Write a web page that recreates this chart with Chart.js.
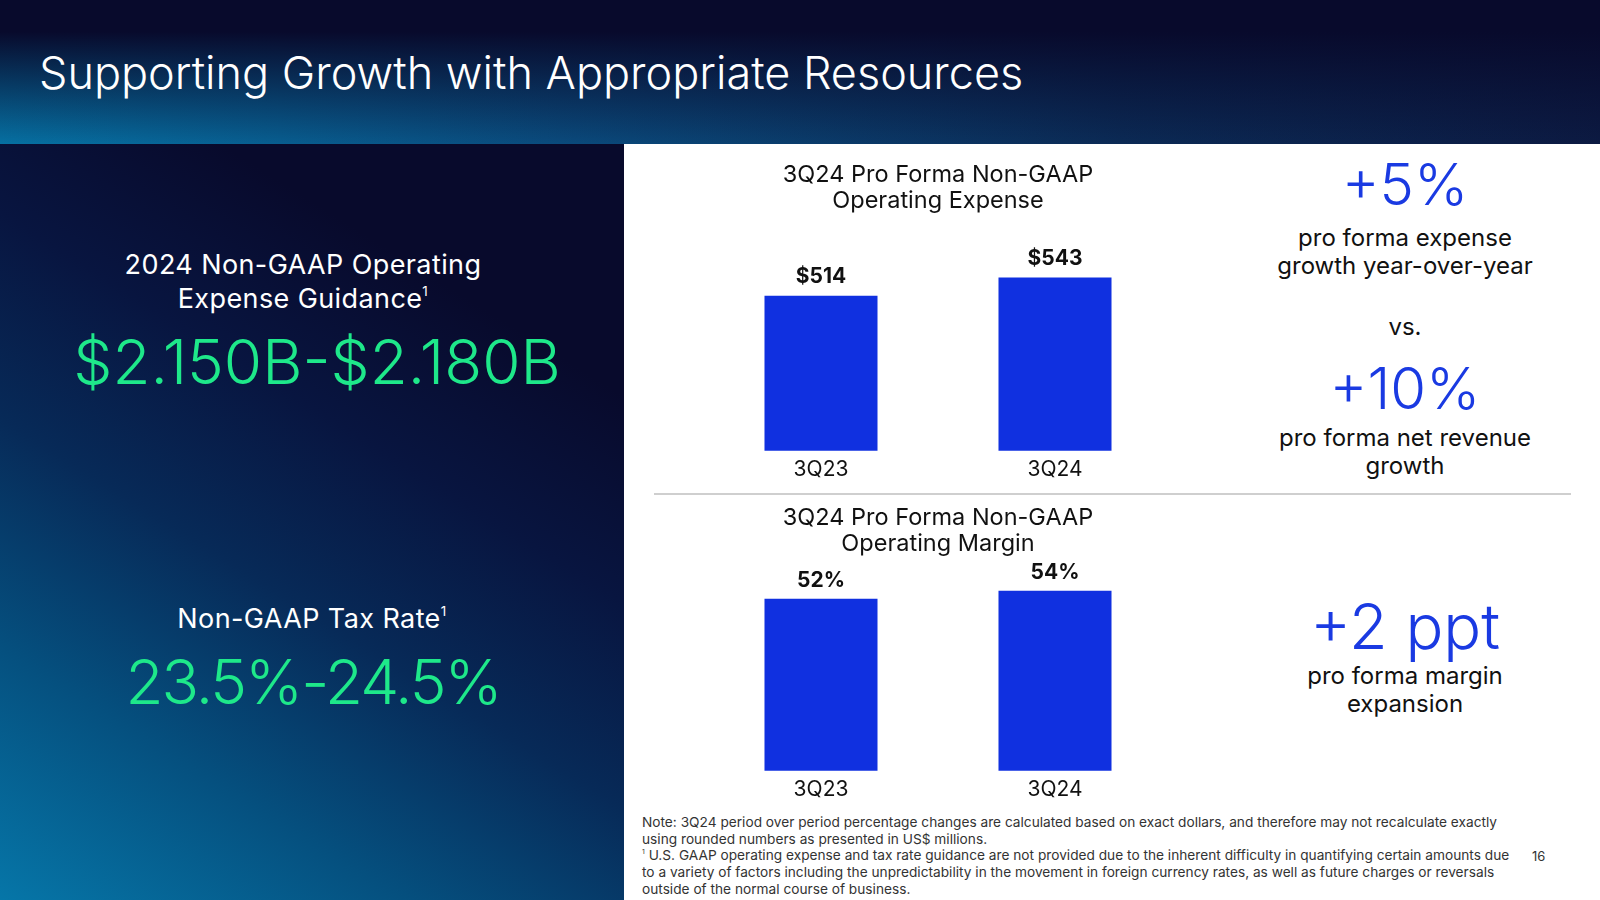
<!DOCTYPE html>
<html>
<head>
<meta charset="utf-8">
<script src="https://cdn.jsdelivr.net/npm/chart.js@4.4.1/dist/chart.umd.min.js"></script>
<style>
  html, body { margin: 0; padding: 0; }
  body { width: 1600px; height: 900px; position: relative; overflow: hidden; font-family: Inter, "Noto Sans", sans-serif; background: #fff; }
  .header {
    position: absolute; left: 0; top: 0; width: 1600px; height: 144px;
    background:
      linear-gradient(to bottom, #080a2c 0%, #080a2c 22%, rgba(8,10,44,0) 100%),
      linear-gradient(to right, #0670a2 0%, #0a4a7c 35%, #0b2a55 70%, #0c1a42 100%);
  }
  .header h1 {
    position: absolute; left: 39px; top: 44px; margin: 0;
    font-size: 45px; font-weight: 300; color: #fff; line-height: 58px; white-space: nowrap;
  }
  .left {
    position: absolute; left: 0; top: 144px; width: 624px; height: 756px;
    background: linear-gradient(32deg, #0676a8 0%, #05507f 22%, #072a58 42%, #081540 60%, #080a2c 78%);
  }
  .left .label { position: absolute; width: 606px; text-align: center; color: #fff; font-size: 27px; line-height: 34px; letter-spacing: 0.4px; }
  .left .big { position: absolute; width: 606px; text-align: center; color: #1ee88a; font-size: 62px; font-weight: 300; line-height: 70px; }
  sup { font-size: 0.5em; line-height: 0; vertical-align: 0.9em; }
  .side { position: absolute; left: 1255px; width: 300px; text-align: center; color: #111; }
  .side .num { color: #1a3ae2; font-size: 58px; font-weight: 300; line-height: 64px; }
  .side .txt { font-size: 24px; line-height: 28px; }
  .divider { position: absolute; left: 654px; top: 493px; width: 917px; height: 2px; background: #cfcfcf; }
  canvas { position: absolute; }
  .note { position: absolute; left: 642px; top: 814px; font-size: 13.7px; line-height: 16.7px; color: #333; white-space: nowrap; }
  .page { position: absolute; left: 1532px; top: 848px; font-size: 13px; color: #333; }
</style>
</head>
<body>
<div class="header"><h1>Supporting Growth with Appropriate Resources</h1></div>

<div class="left">
  <div class="label" style="left:0; top:104px">2024 Non-GAAP Operating<br>Expense Guidance<sup>1</sup></div>
  <div class="big" style="left:14px; top:183px">$2.150B-$2.180B</div>
  <div class="label" style="left:9px; top:458px">Non-GAAP Tax Rate<sup>1</sup></div>
  <div class="big" style="left:10px; top:503px; letter-spacing:-2px">23.5%-24.5%</div>
</div>

<canvas id="opexChart" width="468" height="338" style="left:704px; top:150px"></canvas>
<canvas id="marginChart" width="468" height="315" style="left:704px; top:493px"></canvas>

<div class="side" style="top:152px"><div class="num">+5%</div></div>
<div class="side" style="top:224px"><div class="txt">pro forma expense<br>growth year-over-year</div></div>
<div class="side" style="top:313px"><div class="txt">vs.</div></div>
<div class="side" style="top:356px"><div class="num">+10%</div></div>
<div class="side" style="top:424px"><div class="txt">pro forma net revenue<br>growth</div></div>
<div class="divider"></div>
<div class="side" style="top:592px"><div class="num" style="font-size:63px; line-height:68px">+2 ppt</div></div>
<div class="side" style="top:662px"><div class="txt">pro forma margin<br>expansion</div></div>

<div class="note">Note: 3Q24 period over period percentage changes are calculated based on exact dollars, and therefore may not recalculate exactly<br>using rounded numbers as presented in US$ millions.<br><sup>1</sup> U.S. GAAP operating expense and tax rate guidance are not provided due to the inherent difficulty in quantifying certain amounts due<br>to a variety of factors including the unpredictability in the movement in foreign currency rates, as well as future charges or reversals<br>outside of the normal course of business.</div>
<div class="page">16</div>

<script>
const quarters = ["3Q23", "3Q24"];
const opexValues = [514, 543];
const marginValues = [52, 54];

const barBlue = "#1030e0";

const valueLabels = {
  id: "valueLabels",
  afterDatasetsDraw(chart, args, opts) {
    const { ctx } = chart;
    const meta = chart.getDatasetMeta(0);
    ctx.save();
    ctx.font = "700 21px Inter";
    ctx.fillStyle = "#111";
    ctx.textAlign = "center";
    ctx.textBaseline = "middle";
    meta.data.forEach((bar, i) => {
      ctx.fillText(opts.format(chart.data.datasets[0].data[i]), bar.x, bar.y - opts.offset);
    });
    ctx.restore();
  },
};

function barChart(id, title, values, yMin, yMax, format) {
  return new Chart(document.getElementById(id), {
    type: "bar",
    data: {
      labels: quarters,
      datasets: [{ data: values, backgroundColor: barBlue, barPercentage: 0.483, categoryPercentage: 1 }],
    },
    options: {
      responsive: false,
      animation: false,
      layout: { padding: 0 },
      plugins: {
        legend: { display: false },
        tooltip: { enabled: false },
        title: {
          display: true,
          text: title,
          color: "#111",
          font: { family: "Inter", size: 23.5, weight: "400", lineHeight: 1.1 },
          padding: { top: 12, bottom: 10 },
        },
        valueLabels: { format, offset: 18.5 },
      },
      scales: {
        x: {
          grid: { display: false, drawTicks: false },
          border: { display: false },
          ticks: { color: "#111", padding: 6, font: { family: "Inter", size: 21 } },
        },
        y: { display: false, min: yMin, max: yMax },
      },
    },
    plugins: [valueLabels],
  });
}

barChart("opexChart", ["3Q24 Pro Forma Non-GAAP", "Operating Expense"], opexValues, 266, 629, (v) => `$${v}`);
barChart("marginChart", ["3Q24 Pro Forma Non-GAAP", "Operating Margin"], marginValues, 9, 60, (v) => `${v}%`);
</script>
</body>
</html>
